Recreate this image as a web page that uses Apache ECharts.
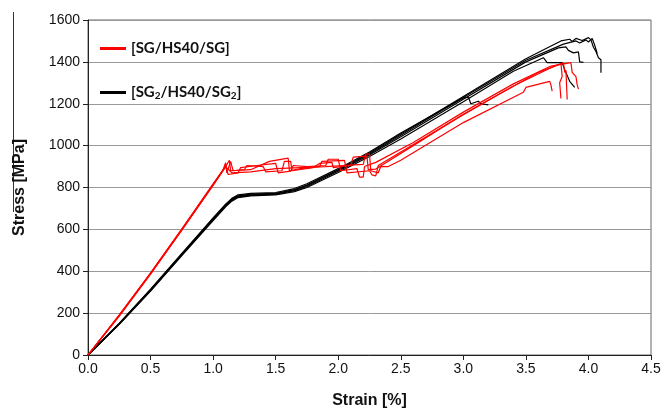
<!DOCTYPE html>
<html>
<head>
<meta charset="utf-8">
<script src="https://cdn.jsdelivr.net/npm/echarts@6/dist/echarts.min.js"></script>
<style>html,body{margin:0;padding:0;background:#fff;}#c{width:671px;height:414px;}</style>
</head>
<body>
<div id="c"></div>
<script>
// Series names
const redName = '[SG/HS40/SG]';
const blackName = '[SG2/HS40/SG2]';

// [SG/HS40/SG] specimens: [strain %, stress MPa]
const red1 = [[0,0],[0.25,192],[0.5,392],[0.75,603],[1.0,818],[1.08,885],[1.1,918],[1.11,870],[1.14,925],[1.16,880],[1.25,885],[1.27,905],[1.4,900],[1.42,875],[1.55,880],[1.57,925],[1.62,925],[1.63,880],[1.8,895],[1.85,915],[1.95,920],[1.96,895],[2.1,905],[2.12,945],[2.23,950],[2.24,885],[2.3,888],[2.6,1000],[3.0,1150],[3.3,1250],[3.6,1350],[3.8,1395],[3.81,1350],[3.82,1360],[3.83,1220]];
const red2 = [[0,0],[0.25,188],[0.5,388],[0.75,598],[1.0,812],[1.07,875],[1.1,905],[1.12,862],[1.2,870],[1.22,895],[1.35,905],[1.5,915],[1.52,870],[1.62,878],[1.64,905],[1.75,900],[1.9,905],[1.92,935],[2.0,935],[2.02,880],[2.15,890],[2.17,850],[2.2,850],[2.21,900],[2.3,920],[2.6,1015],[3.0,1160],[3.4,1295],[3.7,1380],[3.86,1396],[3.87,1350],[3.9,1330],[3.91,1290],[3.92,1270]];
const red3 = [[0,0],[0.25,190],[0.5,390],[0.75,600],[1.0,815],[1.09,890],[1.13,930],[1.14,880],[1.3,885],[1.45,925],[1.6,940],[1.61,880],[1.7,890],[1.85,900],[1.87,925],[2.05,930],[2.07,870],[2.25,880],[2.27,860],[2.3,855],[2.32,905],[2.6,1005],[3.0,1148],[3.4,1285],[3.7,1372],[3.78,1392],[3.79,1330],[3.77,1300],[3.78,1225]];
const red4 = [[0,0],[0.25,186],[0.5,386],[0.75,596],[1.0,810],[1.1,900],[1.15,870],[1.3,875],[1.5,890],[1.7,895],[1.9,900],[2.2,910],[2.22,960],[2.25,960],[2.26,880],[2.32,870],[2.34,900],[2.4,900],[2.5,930],[3.0,1110],[3.48,1255],[3.5,1278],[3.69,1307],[3.7,1290],[3.71,1260]];

// [SG2/HS40/SG2] specimens
const black1 = [[0,0],[0.25,150],[0.5,312],[0.75,482],[1.0,652],[1.1,718],[1.15,745],[1.2,760],[1.3,768],[1.5,772],[1.65,790],[1.75,812],[2.0,885],[2.25,965],[2.5,1055],[3.0,1235],[3.5,1415],[3.78,1500],[3.85,1508],[3.87,1498],[3.9,1512],[3.95,1502],[4.0,1516],[4.02,1505],[4.04,1470],[4.06,1450],[4.08,1420],[4.1,1410],[4.1,1348]];
const black2 = [[0,0],[0.25,148],[0.5,308],[0.75,478],[1.0,646],[1.1,712],[1.15,740],[1.2,755],[1.3,762],[1.5,768],[1.65,785],[1.75,805],[2.0,878],[2.25,955],[2.5,1042],[3.0,1222],[3.5,1400],[3.76,1467],[3.82,1472],[3.84,1455],[3.88,1443],[3.92,1448],[3.93,1400],[3.96,1398]];
const black3 = [[0,0],[0.25,146],[0.5,305],[0.75,475],[1.0,642],[1.1,708],[1.15,735],[1.2,752],[1.3,760],[1.5,765],[1.65,780],[1.75,800],[2.0,872],[2.25,948],[2.5,1032],[3.0,1210],[3.4,1355],[3.64,1420],[3.67,1396],[3.79,1396],[3.81,1363],[3.85,1307],[3.89,1278]];
const black4 = [[0,0],[0.25,152],[0.5,314],[0.75,485],[1.0,655],[1.1,720],[1.15,748],[1.2,765],[1.3,772],[1.5,776],[1.65,795],[1.75,818],[2.0,890],[2.25,970],[2.5,1060],[3.0,1228],[3.04,1232],[3.06,1200],[3.12,1212],[3.14,1200],[3.2,1195]];
const black5 = [[0,0],[0.25,149],[0.5,310],[0.75,480],[1.0,649],[1.1,715],[1.15,742],[1.2,758],[1.3,765],[1.5,770],[1.65,788],[1.75,810],[2.0,882],[2.25,960],[2.5,1050],[3.0,1230],[3.5,1408],[3.8,1485],[3.9,1500],[3.93,1490],[3.98,1505],[4.0,1495],[4.03,1512],[4.05,1480],[4.07,1440]];

// Axis ticks
const xMin = 0, xMax = 4.5, xStep = 0.5;
const yMin = 0, yMax = 1600, yStep = 200;

const redSets = [red1, red2, red3, red4];
const blackSets = [black1, black2, black3, black4, black5];

const chart = echarts.init(document.getElementById('c'));
const series = [];
blackSets.forEach(d => series.push({name: blackName, type: 'line', data: d, showSymbol: false, symbol: 'none', lineStyle: {color: '#000', width: 1.2}, itemStyle: {color: '#000'}, z: 2}));
redSets.forEach(d => series.push({name: redName, type: 'line', data: d, showSymbol: false, symbol: 'none', lineStyle: {color: '#ff0000', width: 1.2}, itemStyle: {color: '#ff0000'}, z: 3}));

const legendText = {
  fontFamily: 'Lato', fontWeight: 'bold', fontSize: 15, color: '#111',
  rich: {
    a: {fontFamily: 'Lato', fontWeight: 'bold', fontSize: 15, color: '#111'},
    s: {fontFamily: 'Lato', fontWeight: 'bold', fontSize: 10, color: '#111', verticalAlign: 'bottom', padding: [7, 0, 0, 0]}
  }
};

chart.setOption({
  animation: false,
  backgroundColor: '#fff',
  grid: {left: 88, right: 20, top: 20, bottom: 56, show: true, borderColor: '#666', borderWidth: 1},
  legend: [
    {data: [{name: redName, icon: 'rect'}], left: 95, top: 36, itemWidth: 26, itemHeight: 3, textStyle: legendText, selectedMode: false},
    {data: [{name: blackName, icon: 'rect'}], left: 95, top: 80, itemWidth: 26, itemHeight: 3, textStyle: legendText, selectedMode: false,
     formatter: () => '{a|[SG}{s|2}{a|/HS40/SG}{s|2}{a|]}'}
  ],
  xAxis: {
    type: 'value', min: xMin, max: xMax, interval: xStep,
    name: 'Strain [%]', nameLocation: 'middle', nameGap: 38,
    nameTextStyle: {fontFamily: 'Liberation Sans', fontWeight: 'bold', fontSize: 16, color: '#111'},
    axisLine: {show: true, lineStyle: {color: '#222', width: 1}},
    axisTick: {show: true, length: 5, lineStyle: {color: '#222'}},
    axisLabel: {fontFamily: 'Liberation Sans', fontSize: 14, color: '#111', margin: 7, formatter: v => v.toFixed(1)},
    splitLine: {show: false}
  },
  yAxis: {
    type: 'value', min: yMin, max: yMax, interval: yStep,
    name: 'Stress [MPa]', nameLocation: 'middle', nameGap: 60,
    nameTextStyle: {fontFamily: 'Liberation Sans', fontWeight: 'bold', fontSize: 16, color: '#111'},
    axisLine: {show: true, lineStyle: {color: '#222', width: 1}},
    axisTick: {show: true, length: 5, lineStyle: {color: '#222'}},
    axisLabel: {fontFamily: 'Liberation Sans', fontSize: 14, color: '#111', margin: 8, formatter: v => String(v)},
    splitLine: {show: true, lineStyle: {color: '#999', width: 1}}
  },
  graphic: [{type: 'line', shape: {x1: 13.5, y1: 12, x2: 13.5, y2: 212}, style: {stroke: '#333', lineWidth: 1}}],
  series: series
});
</script>
</body>
</html>
